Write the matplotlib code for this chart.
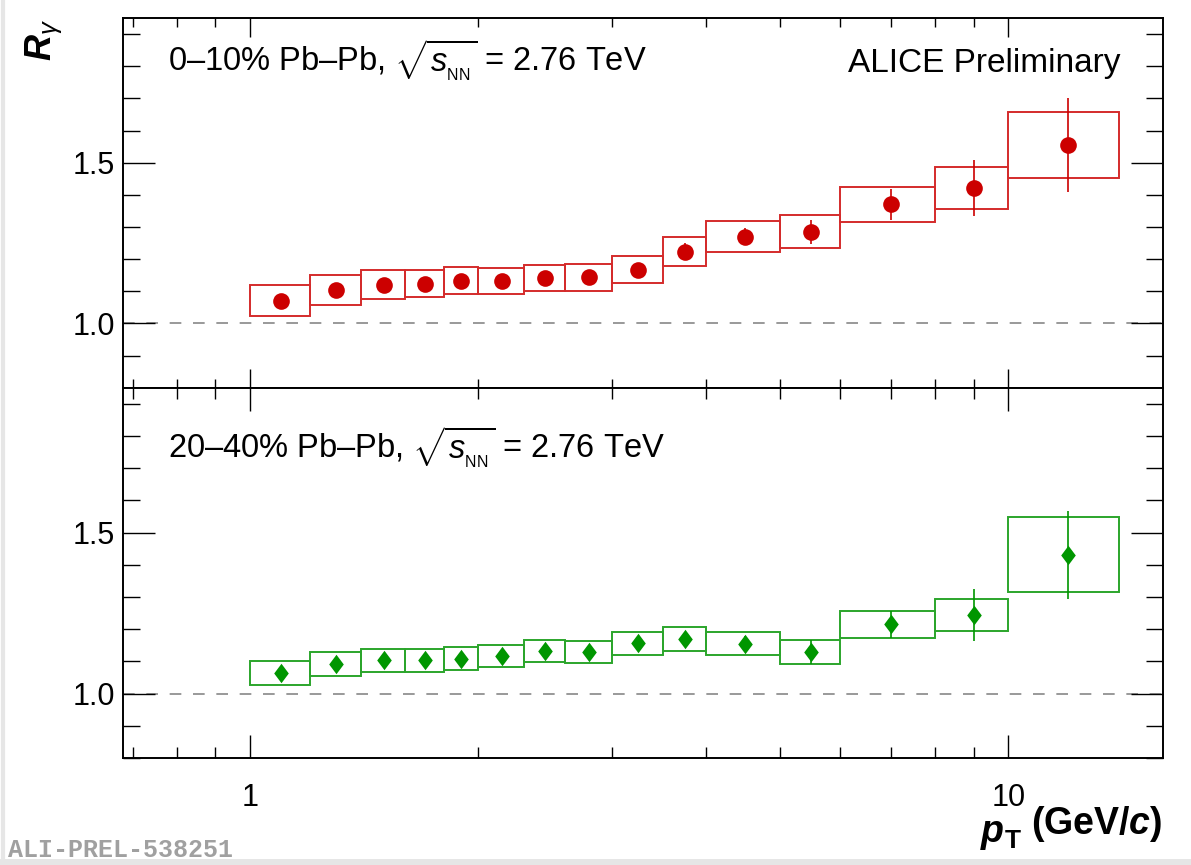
import matplotlib
matplotlib.use("Agg")
import matplotlib.pyplot as plt
import numpy as np
from matplotlib.path import Path
from matplotlib.ticker import FixedLocator, MultipleLocator, NullFormatter, FixedFormatter

plt.rcParams['font.family'] = ['Liberation Sans', 'DejaVu Sans']
plt.rcParams['mathtext.fontset'] = 'custom'
plt.rcParams['mathtext.rm'] = 'Liberation Sans'
plt.rcParams['mathtext.it'] = 'Liberation Sans:italic'
plt.rcParams['mathtext.bf'] = 'Liberation Sans:bold'
plt.rcParams['mathtext.bfit'] = 'Liberation Sans:bold:italic'

# ---------------- data ----------------
pt_lo = [1.0, 1.2, 1.4, 1.6, 1.8, 2.0, 2.3, 2.6, 3.0, 3.5, 4.0, 5.0, 6.0, 8.0, 10.0]
pt_hi = [1.2, 1.4, 1.6, 1.8, 2.0, 2.3, 2.6, 3.0, 3.5, 4.0, 5.0, 6.0, 8.0, 10.0, 14.0]
pt_c = [1.1, 1.3, 1.5, 1.7, 1.9, 2.15, 2.45, 2.8, 3.25, 3.75, 4.5, 5.5, 7.0, 9.0, 12.0]

r_0010 = [1.070, 1.103, 1.121, 1.124, 1.133, 1.133, 1.142, 1.143, 1.167, 1.223,
          1.270, 1.285, 1.371, 1.421, 1.555]
stat_0010 = [0.005, 0.006, 0.006, 0.007, 0.007, 0.008, 0.009, 0.010, 0.012, 0.027,
             0.027, 0.038, 0.048, 0.088, 0.146]
sys_0010 = [0.0485, 0.0465, 0.045, 0.043, 0.0415, 0.040, 0.0405, 0.042, 0.042, 0.0445,
            0.047, 0.051, 0.0545, 0.066, 0.1035]

r_2040 = [1.064, 1.091, 1.103, 1.103, 1.109, 1.118, 1.132, 1.129, 1.156, 1.170,
          1.155, 1.129, 1.215, 1.244, 1.431]
stat_2040 = [0.006, 0.007, 0.007, 0.008, 0.008, 0.009, 0.010, 0.011, 0.013, 0.016,
             0.025, 0.037, 0.043, 0.080, 0.137]
sys_2040 = [0.0385, 0.037, 0.036, 0.035, 0.0345, 0.034, 0.0345, 0.035, 0.035, 0.0365,
            0.0365, 0.0365, 0.043, 0.0505, 0.116]

labels_panel = ["0\u201310% Pb\u2013Pb, $\\sqrt{s_{_\\mathrm{NN}}}$ = 2.76 TeV",
                "20\u201340% Pb\u2013Pb, $\\sqrt{s_{_\\mathrm{NN}}}$ = 2.76 TeV"]

W, H = 1191, 865
fig = plt.figure(figsize=(W / 100, H / 100), dpi=100)
fig.patch.set_facecolor('white')

def fx(px):
    return px / W

def fy(py):
    return 1 - py / H

left, right = 123, 1163
top_y, mid_y, bot_y = 18, 387.7, 758
ax_top = fig.add_axes([fx(left), fy(mid_y), fx(right) - fx(left), fy(top_y) - fy(mid_y)])
ax_bot = fig.add_axes([fx(left), fy(bot_y), fx(right) - fx(left), fy(mid_y) - fy(bot_y)])

diamond = Path([(0, 1), (0.75, 0), (0, -1), (-0.75, 0), (0, 1)],
               [Path.MOVETO, Path.LINETO, Path.LINETO, Path.LINETO, Path.CLOSEPOLY])

series = [
    (ax_top, r_0010, stat_0010, sys_0010, '#cc0000', '#d42b2b', 'o', 12),
    (ax_bot, r_2040, stat_2040, sys_2040, '#009600', '#2ba52b', diamond, 14),
]

lo = np.array(pt_lo)
hi = np.array(pt_hi)
for i, (ax, vals, st, sy, mcol, bcol, mk, ms) in enumerate(series):
    vals = np.array(vals); sy = np.array(sy)
    ax.set_xscale('log')
    ax.set_xlim(0.68, 16.0)
    ax.set_ylim(0.8, 1.95)
    ax.axhline(1.0, color='#888888', lw=1.2, dashes=(7, 7), zorder=1)
    ax.bar(lo, 2 * sy, width=hi - lo, bottom=vals - sy, align='edge',
           fill=False, edgecolor=bcol, linewidth=1.4, zorder=2)
    ax.errorbar(pt_c, vals, yerr=st, fmt='none', ecolor=mcol, elinewidth=1.2,
                capsize=0, zorder=3)
    ax.plot(pt_c, vals, linestyle='none', marker=mk, markersize=ms,
            color=mcol, markeredgewidth=0, zorder=4)

    for sp in ax.spines.values():
        sp.set_linewidth(1.4)
    ax.xaxis.set_major_locator(FixedLocator([1, 10]))
    ax.xaxis.set_minor_locator(FixedLocator([0.7, 0.8, 0.9, 2, 3, 4, 5, 6, 7, 8, 9]))
    ax.xaxis.set_minor_formatter(NullFormatter())
    ax.yaxis.set_major_locator(MultipleLocator(0.5))
    ax.yaxis.set_minor_locator(MultipleLocator(0.1))
    ax.yaxis.set_major_formatter(matplotlib.ticker.FormatStrFormatter('%.1f'))
    xmaj, xmin = (14, 6.5) if i == 0 else (16.5, 8)
    ax.tick_params(axis='x', which='major', direction='in', length=xmaj, width=1.0,
                   top=True, bottom=True, labelsize=22, pad=18)
    ax.tick_params(axis='x', which='minor', direction='in', length=xmin, width=1.0,
                   top=True, bottom=True)
    ax.tick_params(axis='y', which='major', direction='in', length=23, width=1.0,
                   left=True, right=True, labelsize=22, pad=6)
    ax.tick_params(axis='y', which='minor', direction='in', length=12, width=1.0,
                   left=True, right=True)

ax_top.tick_params(axis='x', labelbottom=False)
ax_bot.xaxis.set_major_formatter(FixedFormatter(['1', '10']))

# panel texts
fig.text(fx(168), fy(72), labels_panel[0], fontsize=23.5, ha='left', va='baseline')
fig.text(fx(1120), fy(72), "ALICE Preliminary", fontsize=24, ha='right', va='baseline')
fig.text(fx(168), fy(459), labels_panel[1], fontsize=23.5, ha='left', va='baseline')

# axis titles
fig.text(fx(44), fy(19), r'$\mathbfit{R}_{\gamma}$', fontsize=26, rotation=90,
         ha='center', va='top')
fig.text(fx(1162), fy(834), r'$\mathbf{(GeV/}\mathbfit{c}\mathbf{)}$',
         fontsize=27, ha='right', va='baseline')
fig.text(fx(1022), fy(842), r'$\mathbfit{p}_{\mathbf{T}}$',
         fontsize=27, ha='right', va='baseline')

# watermark
fig.text(fx(8), fy(857), "ALI-PREL-538251", fontsize=18, family='Liberation Mono',
         weight='bold', color='#a0a0a0', ha='left', va='baseline')

# light screenshot border
fig.add_artist(plt.Line2D([fx(3), fx(3)], [0, 1], color='#e6e6e6', lw=3,
                          transform=fig.transFigure))
fig.add_artist(plt.Line2D([0, 1], [fy(862), fy(862)], color='#e6e6e6', lw=5,
                          transform=fig.transFigure))

fig.savefig('out.png', dpi=100)
